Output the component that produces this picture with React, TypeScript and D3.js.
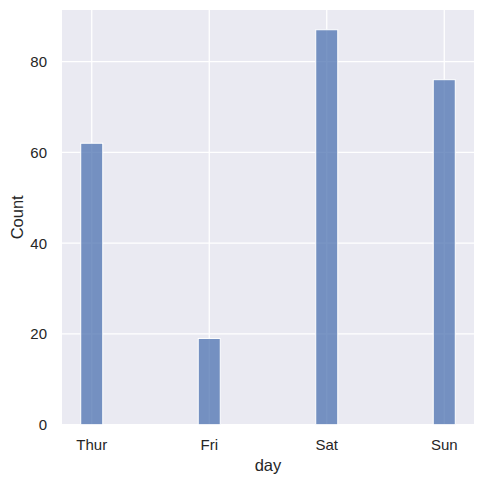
import { useEffect, useRef } from 'react';
import * as d3 from 'd3';

// counts per day
const days = ['Thur', 'Fri', 'Sat', 'Sun'];
const counts = [62, 19, 87, 76];
const yTicks = [0, 20, 40, 60, 80];

const W = 484;
const H = 484;
const margin = { top: 10, right: 10, bottom: 59.3, left: 62 };
const binWidth = 0.1875;

export default function App() {
  const svgRef = useRef<SVGSVGElement>(null);

  useEffect(() => {
    if (!svgRef.current) return;
    const svg = d3.select(svgRef.current);
    svg.selectAll('*').remove();

    const x0 = -binWidth / 2;
    const x1 = days.length - 1 + binWidth / 2;
    const pad = (x1 - x0) * 0.05;
    const x = d3.scaleLinear()
      .domain([x0 - pad, x1 + pad])
      .range([margin.left, W - margin.right]);

    const yMax = d3.max(counts) || 0;
    const y = d3.scaleLinear()
      .domain([0, yMax * 1.05])
      .range([H - margin.bottom, margin.top]);

    // background
    svg.append('rect')
      .attr('x', margin.left)
      .attr('y', margin.top)
      .attr('width', W - margin.left - margin.right)
      .attr('height', H - margin.top - margin.bottom)
      .attr('fill', '#eaeaf2');

    // grid
    const grid = svg.append('g');
    grid.selectAll('line.gx')
      .data(days.map((_, i) => i))
      .join('line')
      .attr('x1', d => x(d)).attr('x2', d => x(d))
      .attr('y1', margin.top).attr('y2', H - margin.bottom)
      .attr('stroke', '#fff').attr('stroke-width', 1.3);
    grid.selectAll('line.gy')
      .data(yTicks)
      .join('line')
      .attr('x1', margin.left).attr('x2', W - margin.right)
      .attr('y1', d => y(d)).attr('y2', d => y(d))
      .attr('stroke', '#fff').attr('stroke-width', 1.3);

    // bars
    svg.append('g')
      .selectAll('rect')
      .data(counts)
      .join('rect')
      .attr('x', (_, i) => x(i - binWidth / 2))
      .attr('width', x(binWidth) - x(0))
      .attr('y', d => y(d))
      .attr('height', d => y(0) - y(d))
      .attr('fill', 'rgba(76,114,176,0.75)')
      .attr('stroke', '#fff')
      .attr('stroke-width', 1);

    const font = 'Arial, "Liberation Sans", sans-serif';

    // x axis labels
    svg.append('g')
      .selectAll('text')
      .data(days)
      .join('text')
      .attr('x', (_, i) => x(i))
      .attr('y', 449.5)
      .attr('text-anchor', 'middle')
      .attr('font-family', font)
      .attr('font-size', '15px')
      .attr('fill', '#262626')
      .text(d => d);

    // y axis labels
    svg.append('g')
      .selectAll('text')
      .data(yTicks)
      .join('text')
      .attr('x', margin.left - 15)
      .attr('y', d => y(d))
      .attr('dy', '0.36em')
      .attr('text-anchor', 'end')
      .attr('font-family', font)
      .attr('font-size', '15px')
      .attr('fill', '#262626')
      .text(d => d);

    svg.append('text')
      .attr('x', margin.left + (W - margin.left - margin.right) / 2)
      .attr('y', 470.5)
      .attr('text-anchor', 'middle')
      .attr('font-family', font)
      .attr('font-size', '16.5px')
      .attr('fill', '#262626')
      .text('day');

    svg.append('text')
      .attr('transform', `translate(23.3,${margin.top + (H - margin.top - margin.bottom) / 2}) rotate(-90)`)
      .attr('text-anchor', 'middle')
      .attr('font-family', font)
      .attr('font-size', '16.5px')
      .attr('fill', '#262626')
      .text('Count');
  }, []);

  return (
    <div style={{ margin: -8 }}>
      <svg ref={svgRef} width={W} height={H} style={{ display: 'block', background: '#fff' }} />
    </div>
  );
}
